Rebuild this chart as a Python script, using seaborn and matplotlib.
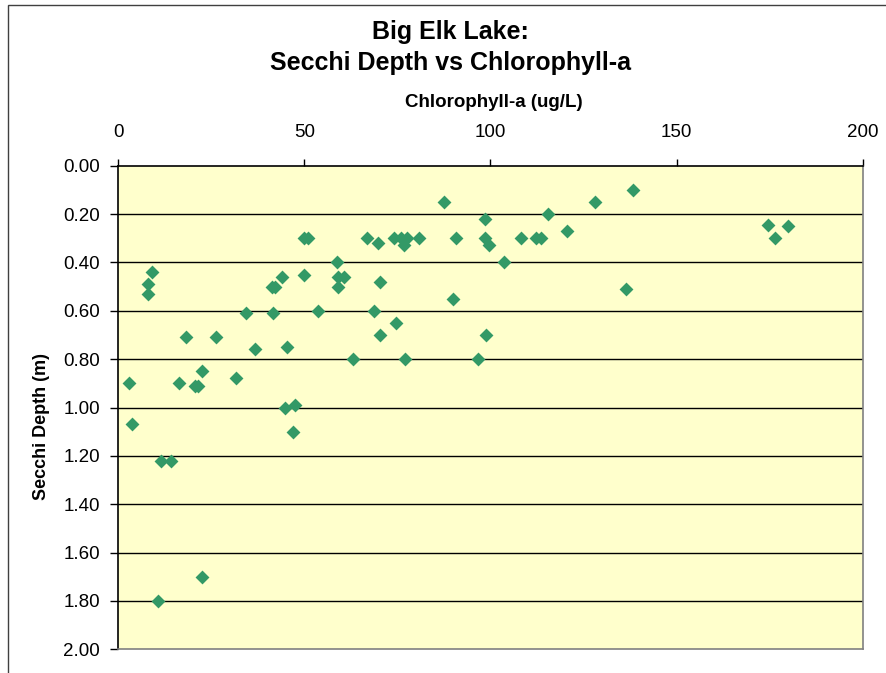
import matplotlib
matplotlib.use("Agg")
import matplotlib.pyplot as plt
import seaborn as sns
import pandas as pd
from matplotlib.patches import Rectangle
from matplotlib.ticker import FormatStrFormatter

# Data
chlorophyll = [3.0, 3.8, 8.1, 8.1, 9.0, 16.2, 18.2, 20.6, 21.3, 22.6,
               26.2, 31.5, 34.4, 36.6, 41.3, 42.2, 43.9, 41.7, 45.2, 44.7,
               47.4, 46.9, 50.0, 50.9, 49.9, 53.6, 58.7, 59.1, 60.6, 59.1,
               63.1, 66.8, 69.9, 70.2, 68.6, 70.3, 74.7, 74.1, 75.9, 77.7,
               80.9, 76.7, 87.6, 90.8, 98.4, 98.4, 99.7, 103.5, 108.3, 112.3,
               113.5, 115.5, 120.6, 128.2, 138.4, 136.3, 89.9, 98.8, 77.1, 96.6,
               174.5, 179.8, 176.4, 11.5, 14.1, 22.6, 10.6]
secchi = [0.90, 1.07, 0.53, 0.49, 0.44, 0.90, 0.71, 0.91, 0.91, 0.85,
          0.71, 0.88, 0.61, 0.76, 0.50, 0.50, 0.46, 0.61, 0.75, 1.00,
          0.99, 1.10, 0.30, 0.30, 0.45, 0.60, 0.40, 0.46, 0.46, 0.50,
          0.80, 0.30, 0.32, 0.48, 0.60, 0.70, 0.65, 0.30, 0.30, 0.30,
          0.30, 0.33, 0.15, 0.30, 0.22, 0.30, 0.33, 0.40, 0.30, 0.30,
          0.30, 0.20, 0.27, 0.15, 0.10, 0.51, 0.55, 0.70, 0.80, 0.80,
          0.245, 0.25, 0.30, 1.22, 1.22, 1.70, 1.80]

x_ticks = [0, 50, 100, 150, 200]
y_ticks = [0.0, 0.2, 0.4, 0.6, 0.8, 1.0, 1.2, 1.4, 1.6, 1.8, 2.0]

df = pd.DataFrame({"chl": chlorophyll, "secchi": secchi})

sns.set_style("white")
plt.rcParams['font.family'] = ['Liberation Sans', 'DejaVu Sans']
plt.rcParams['text.color'] = 'black'
plt.rcParams['xtick.color'] = 'black'
plt.rcParams['ytick.color'] = 'black'

fig = plt.figure(figsize=(8.86, 6.73), dpi=100)
ax = fig.add_axes([0.1335, 0.0352, 0.8402, 0.7186])
ax.set_facecolor("#FFFFCC")

sns.scatterplot(data=df, x="chl", y="secchi", marker="D", s=50,
                color="#339966", linewidth=0, ax=ax, zorder=3)

ax.set_xlim(0, 200)
ax.set_ylim(2.0, 0.0)
ax.set_xticks(x_ticks)
ax.set_yticks(y_ticks)
ax.yaxis.set_major_formatter(FormatStrFormatter('%.2f'))

ax.xaxis.tick_top()
ax.tick_params(axis='x', direction='out', length=5, width=1, colors='black',
               labelsize=13.5, pad=13, top=True, bottom=False)
ax.tick_params(axis='y', direction='out', length=6, width=1, colors='black',
               labelsize=13.5, pad=7, left=True)

ax.grid(False)
for yv in y_ticks[1:-1]:
    ax.axhline(yv, color='black', lw=1, zorder=1)

ax.spines['left'].set_color('black')
ax.spines['top'].set_color('black')
ax.spines['right'].set_color('#808080')
ax.spines['bottom'].set_color('#808080')
for sp in ax.spines.values():
    sp.set_linewidth(1.2)

ax.set_xlabel("")
ax.set_ylabel("")
fig.text(0.5576, 0.848, "Chlorophyll-a (ug/L)", fontsize=13.5,
         fontweight='bold', ha='center', va='center')
fig.text(0.047, 0.367, "Secchi Depth (m)", rotation=90, fontsize=13,
         fontweight='bold', ha='center', va='center')

fig.text(0.5085, 0.953, "Big Elk Lake:", fontsize=18, fontweight='bold',
         ha='center', va='center')
fig.text(0.5085, 0.906, "Secchi Depth vs Chlorophyll-a", fontsize=18,
         fontweight='bold', ha='center', va='center')

# outer chart frame
fig.patches.append(Rectangle((8 / 886, -0.05), 1.2, 1 - 5 / 673 + 0.05,
                             transform=fig.transFigure, fill=False,
                             edgecolor='#404040', lw=1))

fig.savefig("out.png", dpi=100, facecolor='white')
